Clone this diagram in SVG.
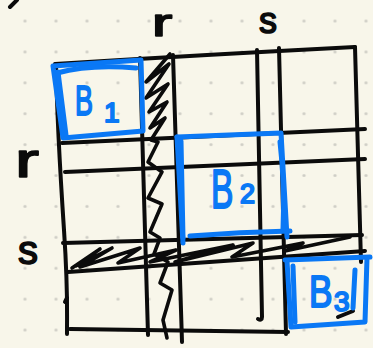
<svg xmlns="http://www.w3.org/2000/svg" width="373" height="348" viewBox="0 0 373 348">
<style>
.ink{fill:none;stroke:#0b0b0b;stroke-width:4;stroke-linecap:round;stroke-linejoin:round}
.hatch{fill:none;stroke:#0b0b0b;stroke-width:3.6;stroke-linecap:round;stroke-linejoin:round}
.blue{fill:none;stroke:#0a78f5;stroke-width:5;stroke-linecap:round;stroke-linejoin:round}
.lbl{font-family:"Liberation Sans",Arial,sans-serif;fill:#0b0b0b;stroke:#0b0b0b;stroke-width:1.6;stroke-linejoin:round}
.btxt{font-family:"Liberation Sans",Arial,sans-serif;fill:#0a78f5;stroke:#0a78f5;stroke-width:2;stroke-linejoin:round}
</style>
<defs>
<pattern id="dots" patternUnits="userSpaceOnUse" x="9.5" y="5.55" width="31" height="30.9">
<circle cx="15.5" cy="15.45" r="1.6" fill="#cfcec6"/>
</pattern>
</defs>
<rect width="373" height="348" fill="#f8f6ea"/>
<rect width="373" height="348" fill="url(#dots)"/>

<g id="connectors">
<path class="ink" d="M10,7 L17,0"/>
<path class="ink" d="M55,64 Q200,55 355,47"/>
<path class="ink" d="M62,143 L365,129"/>
<path class="ink" d="M65,172 L365,159"/>
<path class="ink" d="M63,243 L362,235"/>
<path class="ink" d="M68,272 L365,251"/>
<path class="ink" d="M70,329 L288,332"/>
<path class="ink" d="M56,64 C57,120 60,170 64,230 S67,300 67,334"/>
<path class="ink" d="M140,58 L148,335"/>
<path class="ink" d="M173,55 L182,342"/>
<path class="ink" d="M257,50 L262,317 Q262,321 258,319"/>
<path class="ink" d="M279,48 L286,334"/>
<path class="ink" d="M355,47 Q358,150 361,262"/>
<path class="ink" d="M67,298 L65,302"/>
<path class="hatch" d="M170,54 L146,82 L169,64 L146,98 L168,84 L149,112 L167,102 L150,128 L165,118 L151,140 L158,142 L148,162 L162,172 L148,198 L162,204 L150,232 L160,238 L154,254 L168,262 L160,283 L172,290 L163,320 L167,338"/>
<path class="hatch" d="M72,268 L100,249 L76,266 L112,248 L80,267 L140,248 L118,263 L176,250 L150,262 L233,245 L175,262 L253,243 L232,257 L303,243 L285,251 L350,237"/>
<path class="ink" d="M338,317 L353,311"/>
</g>

<g id="labels">
<text class="lbl" transform="translate(162,36) scale(1.6,1)" font-size="38" text-anchor="middle">r</text>
<text class="lbl" x="268" y="33" font-size="36" text-anchor="middle">s</text>
<text class="lbl" transform="translate(27,177) scale(1.5,1)" font-size="48" text-anchor="middle">r</text>
<text class="lbl" x="28" y="264" font-size="40" text-anchor="middle">s</text>
</g>

<g id="B1">
<path class="blue" d="M53,66 L141,60 L143,131 L63,138 Z"/>
<path class="blue" d="M57,73 Q90,64 136,68"/>
<path class="blue" d="M58,72 L66,135"/>
<text class="btxt" transform="translate(75,115) scale(0.64,1)" font-size="42">B</text>
<text class="btxt" x="104" y="122" font-size="28">1</text>
</g>

<g id="B2">
<path class="blue" d="M177,137 L281,133 L287,237"/>
<path class="blue" d="M177,137 L183,243"/>
<path class="blue" d="M181,141 L183,238"/>
<path class="blue" d="M190,236 Q240,232 290,231"/>
<path class="blue" d="M280,142 Q285,185 283,230"/>
<text class="btxt" transform="translate(211,208) scale(0.6,1)" font-size="56">B</text>
<text class="btxt" x="240" y="203" font-size="27">2</text>
</g>

<g id="B3">
<path class="blue" d="M285,260 L370,257"/>
<path class="blue" d="M287,261 L291,327 L365,322 L367,258"/>
<path class="blue" d="M293,266 L295,322"/>
<path class="blue" d="M355,270 L353,308"/>
<text class="btxt" transform="translate(309,307) scale(0.8,1)" font-size="44">B</text>
<text class="btxt" x="334" y="311" font-size="28">3</text>
</g>
</svg>
